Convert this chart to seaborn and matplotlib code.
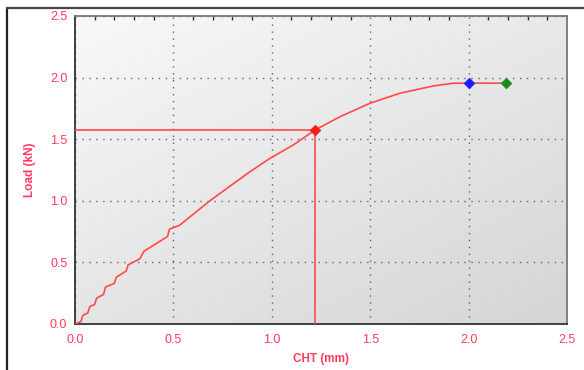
import numpy as np
import pandas as pd
import matplotlib
matplotlib.use("Agg")
import matplotlib.pyplot as plt
from matplotlib.lines import Line2D
from matplotlib.ticker import MultipleLocator
import seaborn as sns

# 载荷-位移曲线
cht = [0.0, 0.03, 0.04, 0.065, 0.075, 0.10, 0.11, 0.145, 0.155, 0.20, 0.21,
       0.26, 0.27, 0.33, 0.35, 0.47, 0.48, 0.53, 0.60, 0.686, 0.771, 0.889,
       0.991, 1.109, 1.22, 1.347, 1.499, 1.651, 1.82, 1.92, 2.00, 2.19]
load = [0.0, 0.02, 0.07, 0.09, 0.14, 0.16, 0.21, 0.24, 0.30, 0.33, 0.38,
        0.43, 0.48, 0.53, 0.59, 0.71, 0.77, 0.80, 0.89, 1.001, 1.10, 1.236,
        1.345, 1.453, 1.575, 1.683, 1.792, 1.873, 1.932, 1.954, 1.955, 1.955]

mark_x = [1.22, 2.00, 2.19]
mark_y = [1.575, 1.955, 1.955]
mark_c = ['#ff1a1a', '#1a1aff', '#1a8a1a']

xticks = [0.0, 0.5, 1.0, 1.5, 2.0, 2.5]
yticks = [0.0, 0.5, 1.0, 1.5, 2.0, 2.5]

red = '#ff4a4a'
txt = '#ff3b5c'

sns.set_style('white')
plt.rcParams['font.family'] = ['Liberation Sans', 'DejaVu Sans']

fig = plt.figure(figsize=(5.84, 3.70), dpi=100)
ax = fig.add_axes([75 / 584, 1 - 324 / 370, (567 - 75) / 584, (324 - 16) / 370])

# 背景渐变 (左上浅, 右下深)
gx, gy = np.meshgrid(np.linspace(0, 1, 200), np.linspace(0, 1, 200))
shade = 0.975 - 0.14 * (0.45 * gx + 0.55 * gy)
rgb = np.dstack([shade, shade, shade])
ax.imshow(rgb, extent=[0, 2.5, 0, 2.5], origin='upper', aspect='auto', zorder=0)

# 辅助线
ax.plot([0, mark_x[0]], [mark_y[0], mark_y[0]], color=red, lw=1.2, zorder=3)
ax.plot([mark_x[0], mark_x[0]], [0, mark_y[0]], color=red, lw=1.2, zorder=3)

df = pd.DataFrame({'CHT': cht, 'Load': load})
sns.lineplot(data=df, x='CHT', y='Load', sort=False, estimator=None,
             color=red, lw=1.2, ax=ax, zorder=4)
for xx, yy, cc in zip(mark_x, mark_y, mark_c):
    sns.scatterplot(x=[xx], y=[yy], marker='D', s=30, color=cc,
                    edgecolor=cc, ax=ax, zorder=5)

ax.set_xlim(0, 2.5)
ax.set_ylim(0, 2.5)
ax.set_xticks(xticks)
ax.set_yticks(yticks)
ax.set_xticklabels([f'{v:.1f}' for v in xticks])
ax.set_yticklabels([f'{v:.1f}' for v in yticks])
ax.xaxis.set_minor_locator(MultipleLocator(0.1))
ax.yaxis.set_minor_locator(MultipleLocator(0.1))
ax.grid(True, which='major', color='#666666', linestyle=(0, (1, 4)), lw=1.0, zorder=1)

ax.tick_params(axis='both', which='both', direction='inout', colors='#333333',
               labelcolor=txt, labelsize=9)
ax.tick_params(axis='both', which='major', length=7, width=1)
ax.tick_params(axis='both', which='minor', length=6, width=1)
ax.tick_params(axis='x', which='minor', top=True, direction='in', length=3)
ax.tick_params(axis='y', pad=2)
ax.tick_params(axis='x', pad=4)

for s in ['left', 'bottom']:
    ax.spines[s].set_color('#333333')
    ax.spines[s].set_linewidth(1.3)
for s in ['top', 'right']:
    ax.spines[s].set_color('#777777')
    ax.spines[s].set_linewidth(1.3)

ax.set_xlabel('CHT (mm)', color=txt, fontsize=8.5, fontweight='bold', labelpad=5)
ax.set_ylabel('Load (kN)', color=txt, fontsize=8.5, fontweight='bold', labelpad=10)

# 外框 (左、上)
fig.add_artist(Line2D([7 / 584, 7 / 584], [0, 1 - 8 / 370], transform=fig.transFigure,
                      color='#222222', lw=1.6))
fig.add_artist(Line2D([7 / 584, 1], [1 - 8 / 370, 1 - 8 / 370], transform=fig.transFigure,
                      color='#444444', lw=1.6))

fig.savefig('out.png', dpi=100)
